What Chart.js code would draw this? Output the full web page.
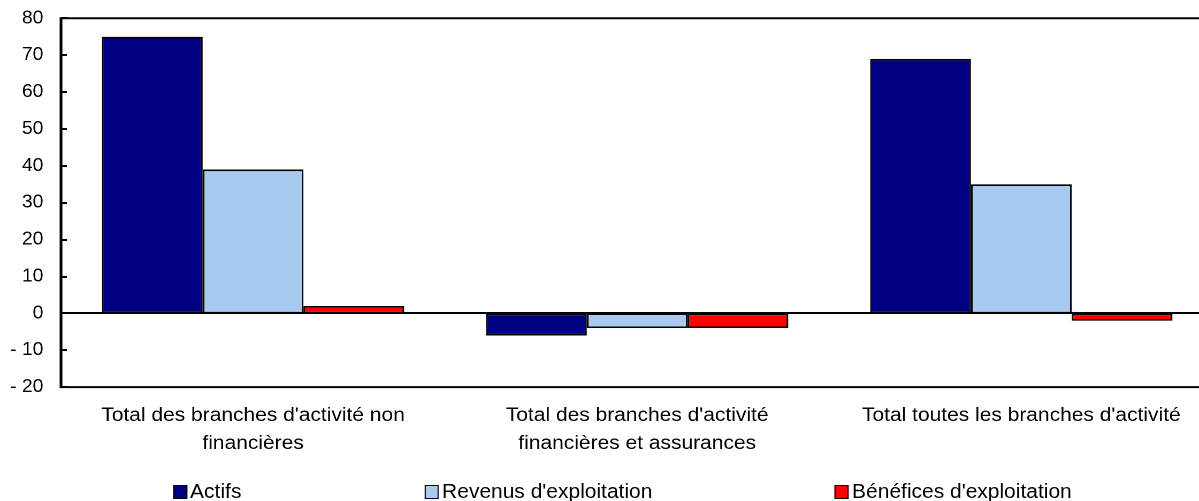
<!DOCTYPE html>
<html>
<head>
<meta charset="utf-8">
<script src="https://cdn.jsdelivr.net/npm/chart.js@4.4.0/dist/chart.umd.min.js"></script>
<style>
  html, body { margin: 0; padding: 0; background: #fff; overflow: hidden; }
  body { width: 1199px; height: 501px; position: relative; font-family: "Liberation Sans", Arial, sans-serif; }
  /* l'original est légèrement étiré en largeur */
  #stage { position: absolute; left: 0; top: 0; width: 1134px; height: 501px; transform: scaleX(1.07); transform-origin: 0 0; }
  #wrap { position: absolute; left: 0; top: -9px; width: 1134px; height: 481px; }
  .leg { position: absolute; top: 481px; font-size: 19.6px; color: #000; white-space: nowrap; line-height: 20px; }
  .leg i { display: inline-block; width: 11px; height: 12px; border: 1.5px solid #000; margin-right: 3px; vertical-align: -1px; }
</style>
</head>
<body>
<div id="stage">
  <div id="wrap"><canvas id="chart"></canvas></div>
  <div id="legend"></div>
</div>
<script>
const categories = [
  ["Total des branches d'activité non", "financières"],
  ["Total des branches d'activité", "financières et assurances"],
  "Total toutes les branches d'activité"
]
const seriesNames = ['Actifs', "Revenus d'exploitation", "Bénéfices d'exploitation"]
const actifs = [75, -6, 69]
const revenus = [39, -4, 35]
const benefices = [2, -4, -2]
const colors = ['#000080', '#a6caf0', '#ff0000']
const yTicks = [80, 70, 60, 50, 40, 30, 20, 10, 0, -10, -20]

const SX = 1.07
const legendX = [173, 425, 835]
const legendEl = document.getElementById('legend')
seriesNames.forEach((name, i) => {
  const d = document.createElement('div')
  d.className = 'leg'
  d.style.left = (legendX[i] / SX) + 'px'
  d.innerHTML = `<i style="background:${colors[i]}"></i>${name}`
  legendEl.appendChild(d)
})

// cadre + petits traits de graduation vers l'intérieur
const frame = {
  id: 'frame',
  afterDatasetsDraw(chart) {
    const { ctx, chartArea: a, scales: { y } } = chart
    ctx.save()
    ctx.strokeStyle = '#000'
    ctx.lineWidth = 2
    ctx.beginPath()
    ctx.moveTo(a.left, a.top); ctx.lineTo(a.right, a.top)
    ctx.moveTo(a.left, a.bottom); ctx.lineTo(a.right, a.bottom)
    const z = Math.round(y.getPixelForValue(0))
    ctx.moveTo(a.left, z); ctx.lineTo(a.right, z)
    yTicks.forEach(v => {
      const p = Math.round(y.getPixelForValue(v))
      ctx.moveTo(a.left, p); ctx.lineTo(a.left + 5.5, p)
    })
    ctx.stroke()
    ctx.lineWidth = 2.6
    ctx.beginPath()
    ctx.moveTo(a.left, a.top - 1); ctx.lineTo(a.left, a.bottom + 1)
    ctx.stroke()
    ctx.restore()
  }
}

const data = [actifs, revenus, benefices]
new Chart(document.getElementById('chart'), {
  type: 'bar',
  data: {
    labels: categories,
    datasets: seriesNames.map((n, i) => ({
      label: n,
      data: data[i],
      backgroundColor: colors[i],
      borderColor: '#000',
      borderWidth: 1.7,
      borderSkipped: false,
      barPercentage: 1,
      categoryPercentage: 0.787
    }))
  },
  options: {
    responsive: true,
    maintainAspectRatio: false,
    animation: false,
    devicePixelRatio: 2,
    layout: { padding: 0 },
    plugins: { legend: { display: false }, tooltip: { enabled: false } },
    scales: {
      x: {
        grid: { display: false, drawTicks: false },
        border: { display: false },
        ticks: {
          color: '#000', padding: 14,
          font: { family: 'Liberation Sans', size: 19.6, lineHeight: 1.45 },
          maxRotation: 0, autoSkip: false
        }
      },
      y: {
        min: -20, max: 80,
        afterFit(s) { s.width = 61 / SX },
        afterBuildTicks(s) { s.ticks = yTicks.map(v => ({ value: v })) },
        grid: { display: false, drawTicks: false },
        border: { display: false },
        ticks: {
          color: '#000', padding: 16.5,
          font: { family: 'Liberation Sans', size: 18 },
          callback: v => v < 0 ? '- ' + Math.abs(v) : String(v)
        }
      }
    }
  },
  plugins: [frame]
})
</script>
</body>
</html>
